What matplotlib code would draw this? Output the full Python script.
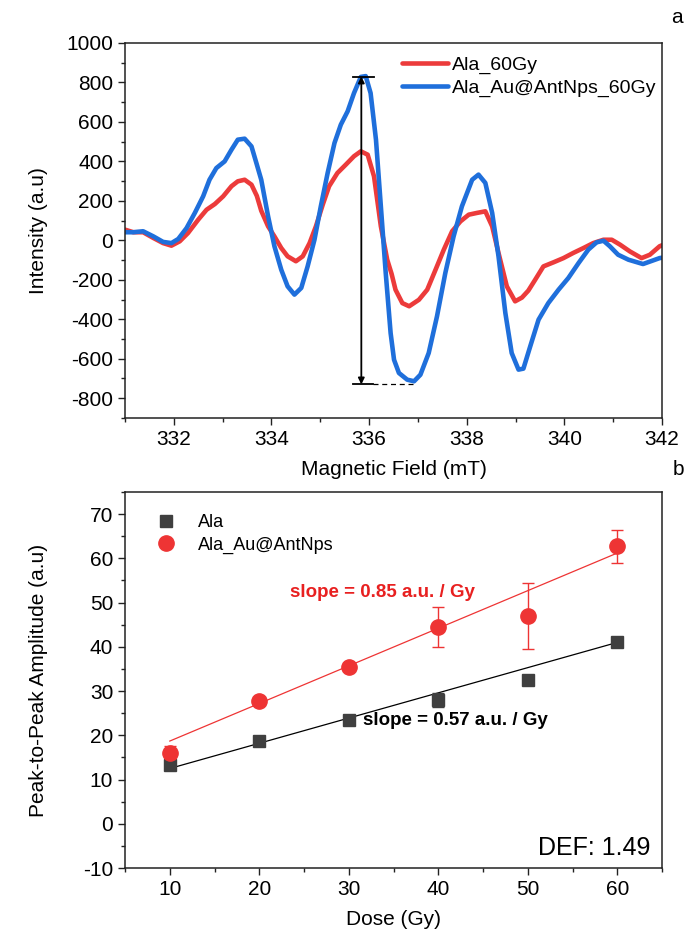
import numpy as np
import matplotlib
matplotlib.use("Agg")
import matplotlib.pyplot as plt
from matplotlib.ticker import MultipleLocator

plt.rcParams['font.family'] = ['Liberation Sans', 'DejaVu Sans']
plt.rcParams['axes.unicode_minus'] = False

# ---------------- panel a data (EPR spectra) ----------------
field_ala = [331.0, 331.17, 331.37, 331.58, 331.78, 331.95, 332.12, 332.29, 332.5, 332.67,
             332.84, 333.01, 333.18, 333.31, 333.45, 333.59, 333.7, 333.79, 333.93, 334.06,
             334.2, 334.33, 334.5, 334.64, 334.78, 334.91, 335.05, 335.18, 335.35, 335.52,
             335.69, 335.83, 335.97, 336.1, 336.24, 336.37, 336.46, 336.54, 336.68, 336.82,
             337.02, 337.19, 337.36, 337.53, 337.7, 337.87, 338.04, 338.21, 338.38, 338.52,
             338.65, 338.82, 338.99, 339.13, 339.26, 339.4, 339.57, 339.78, 339.98, 340.18,
             340.39, 340.59, 340.8, 340.97, 341.14, 341.34, 341.58, 341.75, 341.95, 342.0]
int_ala = [54, 41, 41, 12, -14, -27, -5, 37, 105, 155,
           184, 223, 274, 299, 307, 282, 225, 150, 71, 20,
           -39, -81, -106, -81, -14, 71, 181, 274, 341, 383,
           426, 451, 434, 324, 71, -98, -170, -250, -318, -334,
           -301, -250, -149, -47, 46, 96, 130, 139, 147, 71,
           -64, -233, -309, -290, -255, -200, -132, -111, -90, -64,
           -39, -14, 3, 3, -22, -56, -90, -73, -30, -25]

field_au = [331.0, 331.17, 331.37, 331.58, 331.78, 331.95, 332.09, 332.26, 332.43, 332.6,
            332.73, 332.87, 333.04, 333.18, 333.31, 333.45, 333.59, 333.69, 333.79, 333.93,
            334.06, 334.2, 334.33, 334.47, 334.61, 334.74, 334.88, 335.01, 335.15, 335.29,
            335.42, 335.56, 335.69, 335.83, 335.93, 336.03, 336.14, 336.24, 336.34, 336.44,
            336.51, 336.61, 336.78, 336.92, 337.05, 337.22, 337.39, 337.56, 337.73, 337.9,
            338.11, 338.24, 338.38, 338.52, 338.65, 338.79, 338.92, 339.06, 339.16, 339.3,
            339.47, 339.67, 339.88, 340.08, 340.29, 340.49, 340.66, 340.8, 340.93, 341.1,
            341.31, 341.54, 341.61, 341.78, 341.95, 342.0]
int_au = [41, 41, 46, 20, -8, -14, 7, 62, 139, 223,
          307, 366, 400, 459, 510, 515, 476, 392, 307, 122,
          -30, -149, -233, -275, -241, -132, 3, 172, 341, 493,
          586, 654, 746, 828, 832, 746, 510, 172, -166, -470,
          -605, -672, -706, -714, -681, -571, -385, -166, 20, 172,
          307, 333, 291, 139, -81, -368, -571, -655, -650, -537,
          -402, -318, -250, -191, -115, -47, -10, -2, -30, -73,
          -98, -115, -120, -105, -90, -88]

# ---------------- panel b data ----------------
dose = [10, 20, 30, 40, 50, 60]
amp_ala = [13.3, 18.6, 23.4, 28.0, 32.5, 41.2]
err_ala = [1.0, 0.8, 0.8, 1.6, 0.8, 0.6]
amp_au = [16.0, 27.7, 35.5, 44.5, 46.9, 62.7]
err_au = [1.5, 0.6, 0.6, 4.5, 7.5, 3.8]
fit_ala = (0.57, 6.8)     # slope, intercept
fit_au = (0.85, 10.2)

red = '#EC3B3B'
blue = '#1F6FDB'
dark = '#3F3F3F'
bred = '#EE3434'

fig = plt.figure(figsize=(6.87, 9.38), dpi=100)
ax1 = fig.add_axes([0.182, 0.5544, 0.7817, 0.3998])
ax2 = fig.add_axes([0.182, 0.0746, 0.7817, 0.4009])

# ---- panel a ----
ax1.plot(field_ala, int_ala, color=red, lw=3.3, label='Ala_60Gy',
         solid_capstyle='round', solid_joinstyle='round')
ax1.plot(field_au, int_au, color=blue, lw=3.3, label='Ala_Au@AntNps_60Gy',
         solid_capstyle='round', solid_joinstyle='round')
ax1.set_xlim(331, 342)
ax1.set_ylim(-900, 1000)
ax1.xaxis.set_major_locator(MultipleLocator(2))
ax1.xaxis.set_minor_locator(MultipleLocator(1))
ax1.yaxis.set_major_locator(MultipleLocator(200))
ax1.yaxis.set_minor_locator(MultipleLocator(100))
ax1.set_xlabel('Magnetic Field (mT)', fontsize=15, labelpad=8)
ax1.set_ylabel('Intensity (a.u)', fontsize=15)
ax1.yaxis.set_label_coords(-0.144, 0.5)

# peak-to-peak marker
xa = 335.84
ax1.annotate('', xy=(xa, -730), xytext=(xa, 830),
             arrowprops=dict(arrowstyle='<|-|>', color='black', lw=1.3,
                             mutation_scale=9, shrinkA=0, shrinkB=0))
ax1.plot([335.66, 336.1], [830, 830], color='black', lw=1.3)
ax1.plot([335.66, 336.07], [-730, -730], color='black', lw=1.3)
ax1.plot([336.07, 336.9], [-730, -730], color='black', lw=0.9, ls=(0, (4, 3)))

ax1.legend(loc='upper right', bbox_to_anchor=(1.0, 0.981), frameon=False, fontsize=14,
           handlelength=2.37, handletextpad=0.2, borderaxespad=0.0, borderpad=0.3,
           labelspacing=0.3)

# ---- panel b ----
ax2.errorbar(dose, amp_ala, yerr=err_ala, fmt='s', color=dark, ms=9,
             capsize=4, elinewidth=1.0, capthick=1.0, label='Ala', zorder=3)
ax2.errorbar(dose, amp_au, yerr=err_au, fmt='o', color=bred, ms=11,
             capsize=4, elinewidth=1.0, capthick=1.0, label='Ala_Au@AntNps', zorder=3)
xf = np.array([dose[0], dose[-1]])
ax2.plot(xf, fit_ala[0] * xf + fit_ala[1], color='black', lw=0.9, zorder=2)
ax2.plot(xf, fit_au[0] * xf + fit_au[1], color=bred, lw=0.9, zorder=2)
ax2.set_xlim(5, 65)
ax2.set_ylim(-10, 75)
ax2.xaxis.set_major_locator(MultipleLocator(10))
ax2.xaxis.set_minor_locator(MultipleLocator(5))
ax2.yaxis.set_major_locator(MultipleLocator(10))
ax2.yaxis.set_minor_locator(MultipleLocator(5))
ax2.set_xlabel('Dose (Gy)', fontsize=15, labelpad=8)
ax2.set_ylabel('Peak-to-Peak Amplitude (a.u)', fontsize=15)
ax2.yaxis.set_label_coords(-0.144, 0.5)

ax2.text(33.8, 52.3, 'slope = 0.85 a.u. / Gy', color='#E82020', fontsize=13.5,
         fontweight='bold', ha='center', va='center')
ax2.text(41.9, 23.4, 'slope = 0.57 a.u. / Gy', color='black', fontsize=13.5,
         fontweight='bold', ha='center', va='center')
ax2.text(0.978, 0.053, 'DEF: 1.49', transform=ax2.transAxes, fontsize=18,
         ha='right', va='center')

h, l = ax2.get_legend_handles_labels()
h = [hh[0] for hh in h]
ax2.legend(h, l, loc='upper left', frameon=False, fontsize=13,
           handletextpad=0.77, borderaxespad=0.5, labelspacing=0.31,
           bbox_to_anchor=(0.012, 0.985))

for ax in (ax1, ax2):
    for s in ax.spines.values():
        s.set_linewidth(1.1)
        s.set_color('#222222')
    ax.tick_params(which='both', direction='out', top=False, right=False,
                   labelsize=15, width=1.0, color='#222222')
    ax.tick_params(which='major', length=5)
    ax.tick_params(which='minor', length=3)

fig.text(0.986, 0.981, 'a', fontsize=15, ha='center', va='center')
fig.text(0.987, 0.500, 'b', fontsize=15, ha='center', va='center')

fig.savefig('out.png', dpi=100, facecolor='white')
